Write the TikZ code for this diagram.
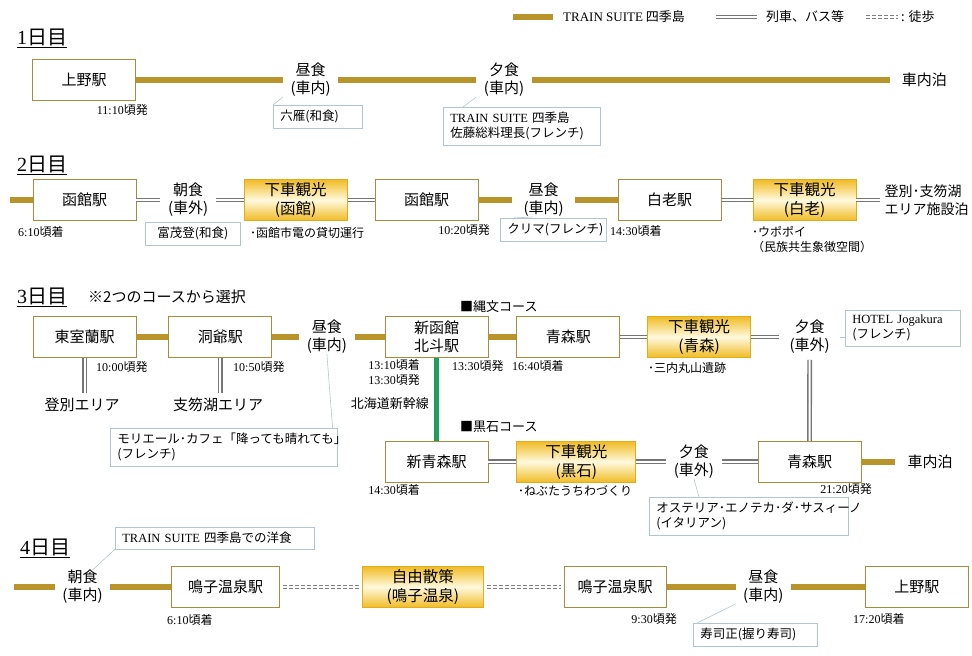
\documentclass[tikz,border=0pt]{standalone}
\usepackage{fontspec}
\setmainfont{Noto Sans CJK JP}
\newfontfamily\lat{Liberation Serif}
\usetikzlibrary{positioning}

\definecolor{goldl}{RGB}{184,148,42}
\definecolor{boxc}{RGB}{168,140,62}
\definecolor{tourc}{RGB}{240,188,36}
\definecolor{tourl}{RGB}{255,249,222}
\definecolor{tourd}{RGB}{226,172,30}
\definecolor{notec}{RGB}{178,198,210}
\definecolor{dblc}{RGB}{118,118,118}
\definecolor{walkc}{RGB}{128,128,128}
\definecolor{shink}{RGB}{30,158,88}

\newcommand{\fbig}{\fontsize{15}{18}\selectfont}
\newcommand{\fmid}{\fontsize{13}{16}\selectfont}
\newcommand{\fsm}{\fontsize{12}{15}\selectfont}
\newcommand{\fnote}{\fontsize{12.5}{15}\selectfont}
\newcommand{\fhead}{\fontsize{20}{24}\selectfont}

\begin{document}
\begin{tikzpicture}[
    x=1pt, y=-1pt,
    every node/.style={font=\fbig, inner sep=0pt},
    stn/.style={rectangle, draw=boxc, line width=0.8pt, minimum width=103pt, minimum height=41pt, align=center, fill=white},
    tour/.style={rectangle, draw=tourd, line width=0.8pt, minimum width=103pt, minimum height=41pt, align=center, top color=tourc, bottom color=tourc, middle color=tourl, font=\fontsize{15.5}{19}\selectfont},
    meal/.style={align=center, minimum width=55pt},
    endtxt/.style={align=left, inner xsep=12pt},
    tm/.style={font=\fsm, align=left},
    note/.style={rectangle, draw=notec, line width=0.6pt, fill=white, align=left, inner xsep=7pt, inner ysep=5pt, font=\fnote},
    ptr/.style={draw=notec, line width=0.6pt},
    gline/.style={draw=goldl, line width=5.5pt},
    dline/.style={draw=dblc, line width=1.4pt, double=white, double distance=2pt},
    wline/.style={dline, draw=walkc, dash pattern=on 4pt off 2pt, shorten <=3pt, shorten >=3pt},
    shinline/.style={draw=shink, line width=5.5pt},
    hdr/.style={font=\fhead, anchor=west},
]
    \useasboundingbox (0,0) rectangle (972,656);

    % legend
    \draw[gline] (513,17) -- (553,17);
    \node[anchor=west, font=\fmid] (legtrain) at (563,17) {{\lat TRAIN SUITE} 四季島};
    \draw[dline] (716,17) -- (757,17);
    \node[anchor=west, font=\fmid] (legrail) at (766,17) {列車、バス等};
    \draw[dline, draw=walkc, dash pattern=on 4pt off 2pt] (866,17) -- (898,17);
    \node[anchor=west, font=\fmid] (legwalk) at (901,17) {: 徒歩};

    % day 1
    \node[hdr] (h1) at (17,38) {\underline{{\lat 1}日目}};
    \node[stn] (ueno1) at (84,80) {上野駅};
    \node[meal, right=147pt of ueno1] (lun1) {昼食\\(車内)};
    \node[meal, right=138pt of lun1] (din1) {夕食\\(車内)};
    \node[endtxt, right=358pt of din1] (stay1) {車内泊};
    \draw[gline] (ueno1) -- (lun1);
    \draw[gline] (lun1) -- (din1);
    \draw[gline] (din1) -- (stay1);
    \node[tm, anchor=east] (dep1) at (148,110) {{\lat 11:10}頃発};
    \node[note, text width=75pt, anchor=north west] (nt1a) at (273,105) {六雁(和食)};
    \draw[ptr] (nt1a.north west) -- (lun1.south west);
    \node[note, text width=143pt, anchor=north west] (nt1b) at (443,107) {{\lat TRAIN SUITE} 四季島\\佐藤総料理長(フレンチ)};
    \draw[ptr] ([xshift=20pt]nt1b.north west) -- (din1.south west);

    % day 2
    \node[hdr] (h2) at (17,165) {\underline{{\lat 2}日目}};
    \coordinate (d2in) at (10,200);
    \node[stn] (hako1) at (84.5,200) {函館駅};
    \node[meal, right=24pt of hako1] (bf2) {朝食\\(車外)};
    \node[tour, right=28pt of bf2] (tour2a) {下車観光\\(函館)};
    \node[stn, right=27pt of tour2a] (hako2) {函館駅};
    \node[meal, minimum width=62pt, right=34pt of hako2] (lun2) {昼食\\(車内)};
    \node[stn, right=43pt of lun2] (shira) {白老駅};
    \node[tour, right=31pt of shira] (tour2b) {下車観光\\(白老)};
    \node[endtxt, inner xsep=4pt, font=\fontsize{14}{18}\selectfont, right=24pt of tour2b] (stay2) {登別･支笏湖\\エリア施設泊};
    \draw[gline] (d2in) -- (hako1);
    \draw[dline] (hako1) -- (bf2);
    \draw[dline] (bf2) -- (tour2a);
    \draw[dline] (tour2a) -- (hako2);
    \draw[gline] (hako2) -- (lun2);
    \draw[gline] (lun2) -- (shira);
    \draw[dline] (shira) -- (tour2b);
    \draw[dline] (tour2b) -- (stay2);
    \node[tm, anchor=west] (arr2a) at (18,232) {{\lat 6:10}頃着};
    \node[note, text width=81pt, align=center, anchor=north west] (nt2a) at (145,222) {富茂登(和食)};
    \node[tm, anchor=west] (sg2a) at (250,233) {･函館市電の貸切運行};
    \node[tm, anchor=east] (dep2) at (490,230) {{\lat 10:20}頃発};
    \node[note, text width=92pt, anchor=north west] (nt2b) at (500,218) {クリマ(フレンチ)};
    \draw[ptr] ([xshift=14pt]nt2b.north west) -- ([xshift=20pt]lun2.south west);
    \node[tm, anchor=west] (arr2b) at (610,231) {{\lat 14:30}頃着};
    \node[tm, anchor=north west] (sg2b) at (752,226) {･ウポポイ\\（民族共生象徴空間）};

    % day 3
    \node[hdr] (h3) at (17,297) {\underline{{\lat 3}日目}};
    \node[anchor=west] (sel3) at (88,297) {※2つのコースから選択};
    \node[stn] (muro) at (84.5,337) {東室蘭駅};
    \node[stn, right=32pt of muro] (toya) {洞爺駅};
    \node[meal, right=27pt of toya] (lun3) {昼食\\(車内)};
    \node[stn, right=30pt of lun3] (shinhako) {新函館\\北斗駅};
    \node[stn, right=28pt of shinhako] (aomori1) {青森駅};
    \node[tour, right=27pt of aomori1] (tour3a) {下車観光\\(青森)};
    \node[meal, minimum width=61pt, right=28pt of tour3a] (din3a) {夕食\\(車外)};
    \draw[gline] (muro) -- (toya);
    \draw[gline] (toya) -- (lun3);
    \draw[gline] (lun3) -- (shinhako);
    \draw[gline] (shinhako) -- (aomori1);
    \draw[dline] (aomori1) -- (tour3a);
    \draw[dline] (tour3a) -- (din3a);
    \node (nobori) at (82,405) {登別エリア};
    \node (shikotsu) at (218,405) {支笏湖エリア};
    \draw[dline, shorten >=5pt] (muro.south) -- (muro.south |- nobori.north);
    \draw[dline, shorten >=5pt] (toya.south) -- (toya.south |- shikotsu.north);
    \node[note, text width=101pt, anchor=north west] (nt3a) at (845,310) {{\lat HOTEL Jogakura}\\(フレンチ)};
    \draw[ptr] (din3a.east) -- (din3a.east -| nt3a.west);
    \node[tm, anchor=west] (dep3a) at (96,367) {{\lat 10:00}頃発};
    \node[tm, anchor=west] (dep3b) at (233,367) {{\lat 10:50}頃発};
    \node[tm, anchor=north east, align=right] (tm3) at (420,359) {{\lat 13:10}頃着\\{\lat 13:30}頃発};
    \node[font=\fmid, anchor=east] (hsk) at (429,404) {北海道新幹線};
    \node[tm, anchor=west] (dep3c) at (452,366) {{\lat 13:30}頃発};
    \node[tm, anchor=west] (arr3a) at (512,366) {{\lat 16:40}頃着};
    \node[tm, anchor=west] (sg3a) at (648,368) {･三内丸山遺跡};
    \node[font=\fmid, anchor=west] (jomon) at (460,307) {■縄文コース};
    \node[font=\fmid, anchor=west] (kuro) at (460,427) {■黒石コース};
    \node[note, text width=213pt, anchor=north west] (nt3b) at (110,428) {モリエール･カフェ「降っても晴れても」\\(フレンチ)};
    \draw[ptr] ([xshift=-5pt]nt3b.north east) -- (lun3.south);

    \node[stn, below=83pt of shinhako] (shinaomori) {新青森駅};
    \node[tour, minimum width=119pt, right=28pt of shinaomori] (tour3b) {下車観光\\(黒石)};
    \node[meal, right=30pt of tour3b] (din3b) {夕食\\(車外)};
    \node[stn, right=36pt of din3b] (aomori2) {青森駅};
    \node[endtxt, right=34pt of aomori2] (stay3) {車内泊};
    \draw[shinline] (shinhako) -- (shinaomori);
    \draw[dline] (shinaomori) -- (tour3b);
    \draw[dline] (tour3b) -- (din3b);
    \draw[dline] (din3b) -- (aomori2);
    \draw[gline] (aomori2) -- (stay3);
    \draw[dline, shorten <=6pt] (din3a) -- (aomori2);
    \node[tm, anchor=east] (arr3b) at (420,490) {{\lat 14:30}頃着};
    \node[tm, anchor=west] (sg3b) at (518,491) {･ねぶたうちわづくり};
    \node[tm, anchor=east] (dep3d) at (872,489) {{\lat 21:20}頃発};
    \node[note, text width=185pt, anchor=north west] (nt3c) at (649,497) {オステリア･エノテカ･ダ･サスィーノ\\(イタリアン)};
    \draw[ptr] ([xshift=50pt]nt3c.north west) -- (din3b.south);

    % day 4
    \node[hdr] (h4) at (20,548) {\underline{{\lat 4}日目}};
    \coordinate (d4in) at (14,587);
    \node[meal] (bf4) at (82.5,587) {朝食\\(車内)};
    \node[stn, minimum width=108pt, right=61pt of bf4] (naruko1) {鳴子温泉駅};
    \node[tour, minimum width=121pt, right=82pt of naruko1] (walk4) {自由散策\\(鳴子温泉)};
    \node[stn, minimum width=102pt, right=80pt of walk4] (naruko2) {鳴子温泉駅};
    \node[meal, right=69pt of naruko2] (lun4) {昼食\\(車内)};
    \node[stn, right=74pt of lun4] (ueno2) {上野駅};
    \draw[gline] (d4in) -- (bf4);
    \draw[gline] (bf4) -- (naruko1);
    \draw[wline] (naruko1) -- (walk4);
    \draw[wline] (walk4) -- (naruko2);
    \draw[gline] (naruko2) -- (lun4);
    \draw[gline] (lun4) -- (ueno2);
    \node[tm, anchor=west] (arr4a) at (167,620) {{\lat 6:10}頃着};
    \node[tm, anchor=east] (dep4) at (677,619) {{\lat 9:30}頃発};
    \node[tm, anchor=west] (arr4b) at (853,619) {{\lat 17:20}頃着};
    \node[note, text width=185pt, anchor=north west] (nt4a) at (115,527) {{\lat TRAIN SUITE} 四季島での洋食};
    \draw[ptr] (nt4a.south west) -- ([xshift=10pt]bf4.north);
    \node[note, text width=110pt, anchor=north west] (nt4b) at (693,623) {寿司正(握り寿司)};
    \draw[ptr] ([xshift=4pt]nt4b.north west) -- (lun4.south west);
\end{tikzpicture}
\end{document}
